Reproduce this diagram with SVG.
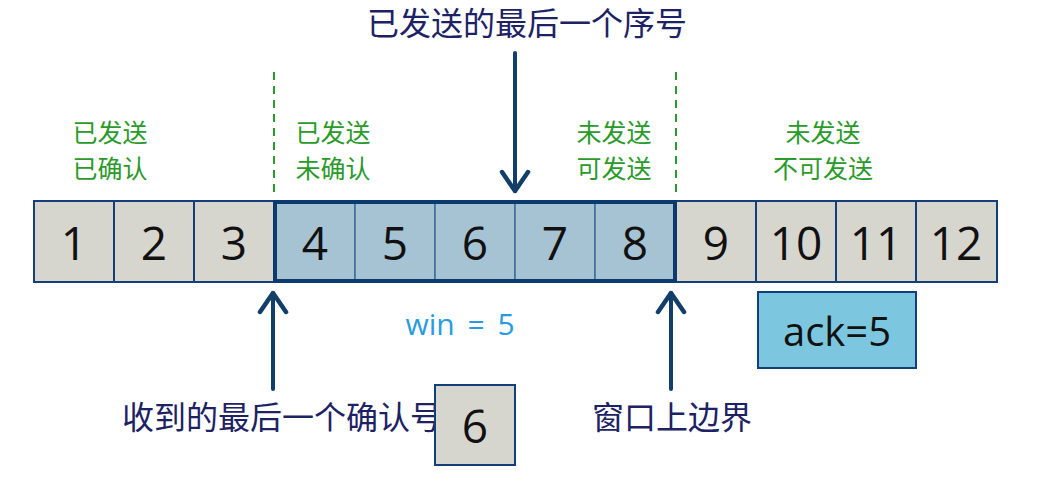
<svg xmlns="http://www.w3.org/2000/svg" width="1050" height="483" viewBox="0 0 1050 483">
<defs>
<style>
.cell{fill:#d6d6cf;stroke:#14407a;stroke-width:2}
.wcell{fill:#a6c3d3;stroke:#3f6e9a;stroke-width:1.5}
.num{font-family:"Open Sans","Noto Sans",sans-serif;font-size:46px;fill:#111;text-anchor:middle}
.grn{font-family:"Noto Sans CJK SC",sans-serif;font-size:25px;fill:#2a9a2a;text-anchor:middle}
.lbl{font-family:"Noto Sans CJK SC",sans-serif;font-size:32px;fill:#1c2264}
.dash{stroke:#2a9a2a;stroke-width:2;stroke-dasharray:8,6;fill:none}
.arr{stroke:#113f69;stroke-width:4;fill:none;stroke-linecap:round}
</style>
<marker id="ah" viewBox="0 0 28 32" refX="24" refY="16" markerWidth="28" markerHeight="32" markerUnits="userSpaceOnUse" orient="auto">
<path d="M5,3 L24,16 L5,29" fill="none" stroke="#113f69" stroke-width="4.5" stroke-linecap="round" stroke-linejoin="round"/>
</marker>
</defs>
<rect width="1050" height="483" fill="#ffffff"/>
<g id="cells">
<g id="c1"><rect class="cell" x="34" y="201" width="80" height="81"/><text class="num" x="74" y="260">1</text></g>
<g id="c2"><rect class="cell" x="114" y="201" width="80" height="81"/><text class="num" x="154" y="260">2</text></g>
<g id="c3"><rect class="cell" x="194" y="201" width="80" height="81"/><text class="num" x="234" y="260">3</text></g>
<g id="c4"><rect class="wcell" x="275" y="201" width="80" height="81"/><text class="num" x="315" y="260">4</text></g>
<g id="c5"><rect class="wcell" x="355" y="201" width="80" height="81"/><text class="num" x="395" y="260">5</text></g>
<g id="c6"><rect class="wcell" x="435" y="201" width="80" height="81"/><text class="num" x="475" y="260">6</text></g>
<g id="c7"><rect class="wcell" x="515" y="201" width="80" height="81"/><text class="num" x="555" y="260">7</text></g>
<g id="c8"><rect class="wcell" x="595" y="201" width="80" height="81"/><text class="num" x="635" y="260">8</text></g>
<g id="c9"><rect class="cell" x="676" y="201" width="80" height="81"/><text class="num" x="716" y="260">9</text></g>
<g id="c10"><rect class="cell" x="756" y="201" width="80" height="81"/><text class="num" x="796" y="260">10</text></g>
<g id="c11"><rect class="cell" x="836" y="201" width="80" height="81"/><text class="num" x="876" y="260">11</text></g>
<g id="c12"><rect class="cell" x="916" y="201" width="81" height="81"/><text class="num" x="956" y="260">12</text></g>
<rect id="window" x="275" y="202" width="400" height="79" fill="none" stroke="#0d3a6e" stroke-width="4"/>
</g>
<g id="labels">
<text class="grn" x="110" y="142">已发送</text>
<text class="grn" x="110" y="178">已确认</text>
<text class="grn" x="333" y="142">已发送</text>
<text class="grn" x="333" y="178">未确认</text>
<text class="grn" x="614" y="142">未发送</text>
<text class="grn" x="614" y="178">可发送</text>
<text class="grn" x="823" y="142">未发送</text>
<text class="grn" x="823" y="178">不可发送</text>
<text class="lbl" x="527" y="35" text-anchor="middle">已发送的最后一个序号</text>
<text class="lbl" x="282" y="429" text-anchor="middle">收到的最后一个确认号</text>
<text class="lbl" x="672" y="429" text-anchor="middle">窗口上边界</text>
<text x="460" y="335" font-family="'Open Sans','Noto Sans',sans-serif" font-size="30" word-spacing="5" fill="#2a9be0" text-anchor="middle">win = 5</text>
</g>
<g id="box6"><rect class="cell" x="435" y="385" width="80" height="80"/><text class="num" x="475" y="443">6</text></g>
<g id="ack"><rect x="758" y="292" width="158" height="76" fill="#7cc7df" stroke="#14407a" stroke-width="2"/><text x="837" y="346" font-family="'Open Sans','Noto Sans',sans-serif" font-size="40" fill="#111" text-anchor="middle">ack=5</text></g>
<g id="connectors">
<line class="dash" x1="274" y1="72" x2="274" y2="192"/>
<line class="dash" x1="676" y1="72" x2="676" y2="192"/>
<line class="arr" x1="515" y1="53" x2="515" y2="191" marker-end="url(#ah)"/>
<line class="arr" x1="273" y1="389" x2="273" y2="293" marker-end="url(#ah)"/>
<line class="arr" x1="671" y1="389" x2="671" y2="293" marker-end="url(#ah)"/>
</g>
</svg>
